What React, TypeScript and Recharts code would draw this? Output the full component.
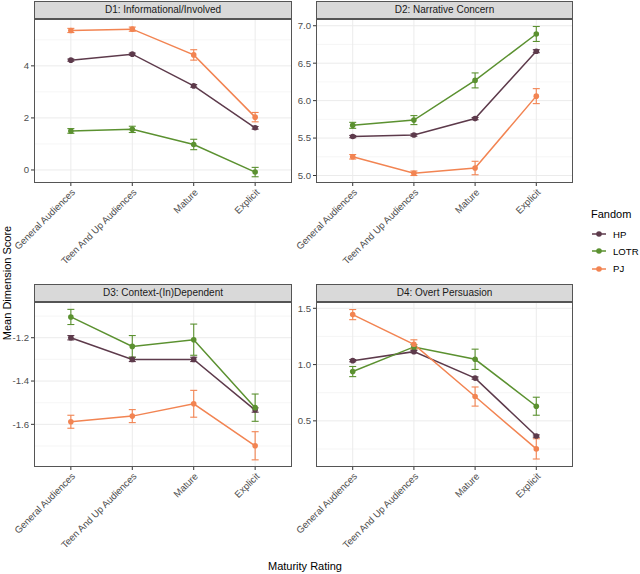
import { LineChart, Line, XAxis, YAxis, CartesianGrid, ErrorBar } from "recharts";

const CATEGORIES = ["General Audiences", "Teen And Up Audiences", "Mature", "Explicit"];
const FANDOMS = ["HP", "LOTR", "PJ"];
const COLORS: Record<string, string> = { HP: "#5D3A4B", LOTR: "#5B9130", PJ: "#F28452" };

// D1: Informational/Involved
const D1_HP = [4.22, 4.45, 3.23, 1.62];
const D1_HP_ERR = [0.04, 0.04, 0.05, 0.05];
const D1_LOTR = [1.5, 1.56, 0.98, -0.08];
const D1_LOTR_ERR = [0.09, 0.12, 0.2, 0.18];
const D1_PJ = [5.36, 5.41, 4.42, 2.03];
const D1_PJ_ERR = [0.08, 0.08, 0.2, 0.18];

// D2: Narrative Concern
const D2_HP = [5.52, 5.54, 5.76, 6.66];
const D2_HP_ERR = [0.015, 0.015, 0.015, 0.02];
const D2_LOTR = [5.67, 5.74, 6.27, 6.89];
const D2_LOTR_ERR = [0.04, 0.06, 0.1, 0.1];
const D2_PJ = [5.25, 5.03, 5.1, 6.06];
const D2_PJ_ERR = [0.03, 0.03, 0.09, 0.1];

// D3: Context-(In)Dependent
const D3_HP = [-1.2, -1.3, -1.3, -1.534];
const D3_HP_ERR = [0.01, 0.01, 0.01, 0.01];
const D3_LOTR = [-1.104, -1.24, -1.209, -1.523];
const D3_LOTR_ERR = [0.035, 0.05, 0.072, 0.063];
const D3_PJ = [-1.588, -1.562, -1.505, -1.699];
const D3_PJ_ERR = [0.03, 0.03, 0.062, 0.065];

// D4: Overt Persuasion
const D4_HP = [1.035, 1.115, 0.88, 0.365];
const D4_HP_ERR = [0.01, 0.01, 0.01, 0.01];
const D4_LOTR = [0.938, 1.157, 1.047, 0.63];
const D4_LOTR_ERR = [0.045, 0.02, 0.09, 0.08];
const D4_PJ = [1.444, 1.18, 0.716, 0.251];
const D4_PJ_ERR = [0.045, 0.04, 0.085, 0.09];

const D1_TICKS = [0, 2, 4];
const D1_MINOR = [1, 3, 5];
const D2_TICKS = [5.0, 5.5, 6.0, 6.5, 7.0];
const D2_MINOR = [5.25, 5.75, 6.25, 6.75];
const D3_TICKS = [-1.6, -1.4, -1.2];
const D3_MINOR = [-1.7, -1.5, -1.3, -1.1];
const D4_TICKS = [0.5, 1.0, 1.5];
const D4_MINOR = [0.25, 0.75, 1.25];

const FONT = '"Liberation Sans", Arial, Helvetica, sans-serif';
const X_POS = CATEGORIES.map((_, i) => i + 1);

function rows(hp: number[], hpE: number[], lotr: number[], lotrE: number[], pj: number[], pjE: number[]) {
  return CATEGORIES.map((c, i) => ({
    x: i + 1, cat: c,
    HP: hp[i], HP_err: hpE[i],
    LOTR: lotr[i], LOTR_err: lotrE[i],
    PJ: pj[i], PJ_err: pjE[i],
  }));
}

function RotTick(props: any) {
  const { x, y, payload } = props;
  return (
    <g transform={`translate(${x},${y}) rotate(-45)`}>
      <text textAnchor="end" dy="0.72em" fill="#4D4D4D" fontSize={9.6} fontFamily={FONT}>
        {CATEGORIES[payload.value - 1]}
      </text>
    </g>
  );
}

type PanelProps = {
  title: string; left: number; top: number; w: number; h: number; yw: number;
  domain: [number, number]; ticks: number[]; minor: number[]; digits: number;
  data: ReturnType<typeof rows>;
};

const X_AXIS_H = 92;

function Panel({ title, left, top, w, h, yw, domain, ticks, minor, digits, data }: PanelProps) {
  return (
    <>
      <div style={{
        position: "absolute", left, top: top - 18, width: w, height: 18, boxSizing: "border-box",
        background: "#D9D9D9", border: "1px solid #555", fontSize: 10, color: "#1A1A1A",
        textAlign: "center", lineHeight: "16px", fontFamily: FONT,
      }}>{title}</div>
      <div style={{ position: "absolute", left: left - yw, top }}>
        <LineChart width={yw + w} height={h + X_AXIS_H} data={data} margin={{ top: 0, right: 0, bottom: 0, left: 0 }}>
          <CartesianGrid horizontal vertical={false} horizontalValues={minor} stroke="#F0F0F0" strokeWidth={0.6} />
          <CartesianGrid horizontalValues={ticks} verticalValues={X_POS} stroke="#EBEBEB" strokeWidth={1} />
          <XAxis type="number" dataKey="x" domain={[0.4, 4.6]} ticks={X_POS} allowDataOverflow
            axisLine={false} tickSize={3} tickMargin={2} tickLine={{ stroke: "#333" }}
            height={X_AXIS_H} tick={<RotTick />} interval={0} />
          <YAxis type="number" domain={domain} ticks={ticks} allowDataOverflow width={yw}
            axisLine={false} tickSize={3} tickMargin={2} tickLine={{ stroke: "#333" }}
            tickFormatter={(v: number) => v.toFixed(digits)}
            tick={{ fill: "#4D4D4D", fontSize: 9.6, fontFamily: FONT }} interval={0} />
          {FANDOMS.map((f) => (
            <Line key={f} type="linear" dataKey={f} stroke={COLORS[f]} strokeWidth={1.5}
              dot={{ r: 2.8, fill: COLORS[f], stroke: COLORS[f], strokeWidth: 0 }}
              activeDot={false} isAnimationActive={false}>
              <ErrorBar dataKey={`${f}_err`} width={3.5} stroke={COLORS[f]} strokeWidth={1.1} direction="y" />
            </Line>
          ))}
        </LineChart>
      </div>
      <div style={{
        position: "absolute", left, top, width: w, height: h, boxSizing: "border-box",
        border: "1px solid #555", pointerEvents: "none",
      }} />
    </>
  );
}

function LegendBox() {
  return (
    <div style={{ position: "absolute", left: 591, top: 207, fontFamily: FONT }}>
      <div style={{ fontSize: 11, color: "#000", lineHeight: "14px" }}>Fandom</div>
      {FANDOMS.map((f, i) => (
        <div key={f} style={{ position: "absolute", top: 20 + i * 17.4, left: 0, display: "flex", alignItems: "center", height: 14 }}>
          <svg width={16} height={14}>
            <line x1={1} y1={7} x2={15} y2={7} stroke={COLORS[f]} strokeWidth={1.5} />
            <circle cx={8} cy={7} r={2.8} fill={COLORS[f]} />
          </svg>
          <span style={{ fontSize: 9.6, color: "#000", marginLeft: 6 }}>{f}</span>
        </div>
      ))}
    </div>
  );
}

export default function App() {
  return (
    <div style={{ position: "absolute", left: 0, top: 0, width: 640, height: 574, background: "#fff", fontFamily: FONT, overflow: "hidden" }}>
      <Panel title="D1: Informational/Involved" left={34} top={19} w={258} h={164} yw={34}
        domain={[-0.5, 5.8]} ticks={D1_TICKS} minor={D1_MINOR} digits={0}
        data={rows(D1_HP, D1_HP_ERR, D1_LOTR, D1_LOTR_ERR, D1_PJ, D1_PJ_ERR)} />
      <Panel title="D2: Narrative Concern" left={316} top={19} w={257} h={164} yw={26}
        domain={[4.9, 7.09]} ticks={D2_TICKS} minor={D2_MINOR} digits={1}
        data={rows(D2_HP, D2_HP_ERR, D2_LOTR, D2_LOTR_ERR, D2_PJ, D2_PJ_ERR)} />
      <Panel title="D3: Context-(In)Dependent" left={34} top={302} w={258} h={165} yw={34}
        domain={[-1.797, -1.035]} ticks={D3_TICKS} minor={D3_MINOR} digits={1}
        data={rows(D3_HP, D3_HP_ERR, D3_LOTR, D3_LOTR_ERR, D3_PJ, D3_PJ_ERR)} />
      <Panel title="D4: Overt Persuasion" left={316} top={302} w={257} h={165} yw={26}
        domain={[0.09, 1.556]} ticks={D4_TICKS} minor={D4_MINOR} digits={1}
        data={rows(D4_HP, D4_HP_ERR, D4_LOTR, D4_LOTR_ERR, D4_PJ, D4_PJ_ERR)} />
      <div style={{ position: "absolute", left: 0, width: 610, top: 560, textAlign: "center", fontSize: 11, color: "#000" }}>
        Maturity Rating
      </div>
      <div style={{
        position: "absolute", left: 7, top: 283, fontSize: 11, color: "#000", whiteSpace: "nowrap",
        transform: "translate(-50%, -50%) rotate(-90deg)",
      }}>Mean Dimension Score</div>
      <LegendBox />
    </div>
  );
}
